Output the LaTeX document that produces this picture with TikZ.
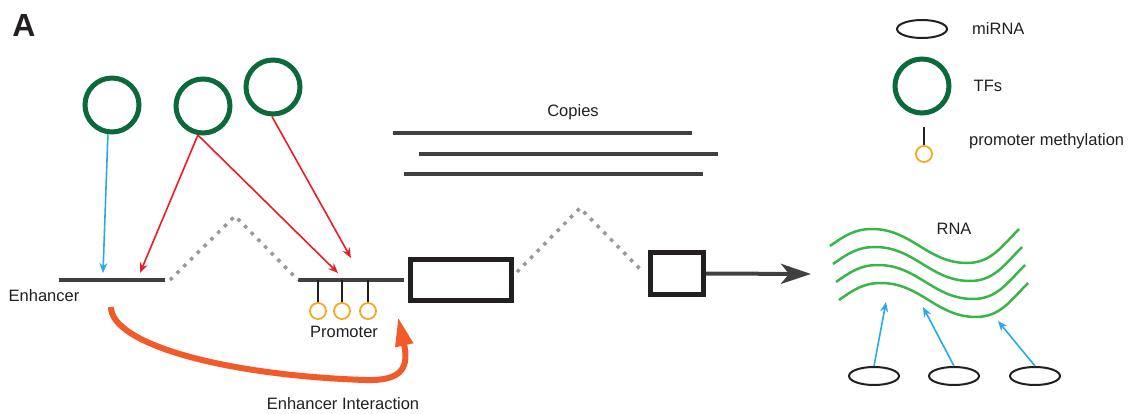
\documentclass[tikz,border=0pt]{standalone}
\usepackage{fontspec}
\setmainfont{Liberation Sans}
\usetikzlibrary{arrows.meta,positioning,shapes.geometric}
\definecolor{dnagray}{HTML}{404041}
\definecolor{boxblack}{HTML}{231F20}
\definecolor{tfgreen}{HTML}{0B6A3B}
\definecolor{methorange}{HTML}{F7A823}
\definecolor{mirblue}{HTML}{29ABE2}
\definecolor{tfred}{HTML}{ED1C24}
\definecolor{loopred}{HTML}{F15A29}
\definecolor{rnagreen}{HTML}{39B54A}

\begin{document}
\begin{tikzpicture}[x=1pt, y=1pt,
  tf/.style={circle, draw=tfgreen, line width=5pt, minimum size=54pt, inner sep=0pt},
  mirna/.style={ellipse, draw=boxblack, line width=2pt, minimum width=50pt,
                minimum height=18pt, inner sep=0pt},
  methyl/.style={circle, draw=methorange, line width=1.8pt, minimum size=16pt, inner sep=0pt},
  exon/.style={draw=boxblack, line width=5pt, inner sep=0pt},
  dna/.style={dnagray, line width=4pt},
  intron/.style={gray!80, line width=3.5pt, dash pattern=on 3.5pt off 6pt},
  rna/.style={rnagreen, line width=2.5pt},
  lbl/.style={font=\fontsize{16.5}{18}\selectfont, text=boxblack, inner sep=0pt},
  bind/.style={-{Stealth[length=10pt,width=8pt]}, line width=1.6pt},
]
\useasboundingbox (0,0) rectangle (1130,413);

\node[font=\fontsize{32}{34}\selectfont\bfseries, text=boxblack] (panel) at (24,388) {A};

% DNA: enhancer, promoter, exons and introns
\draw[dna] (59,133) -- (165,133);
\draw[dna] (298,133) -- (404,133);
\draw[intron] (170,133) -- (235,197) -- (298,133);
\node[exon, minimum width=101pt, minimum height=41pt] (ex1) at (460.5,133.5) {};
\draw[intron] (517,141) -- (580,205) -- (643,141);
\node[exon, minimum width=53pt, minimum height=42pt] (ex2) at (677,139.5) {};
\node[lbl] (enhlbl) at (44,117) {Enhancer};
\node[lbl] (prolbl) at (344,81) {Promoter};

% methylation pins on the promoter
\foreach \x [count=\i] in {318,342,368}{
  \node[methyl] (me\i) at (\x,102) {};
  \draw[boxblack, line width=1.6pt] (me\i.north) -- (\x,133);
}

% transcription factors
\node[tf] (tf1) at (112,308) {};
\node[tf] (tf2) at (203,307) {};
\node[tf] (tf3) at (273,326) {};

\coordinate (enhA) at (103,140);
\coordinate (enhB) at (140,140);
\coordinate (proA) at (338,140);
\coordinate (proB) at (351,155);
\draw[bind, mirblue] (tf1.-98) -- (enhA);
\draw[bind, tfred] (tf2.-100) -- (enhB);
\draw[bind, tfred] (tf2.-100) -- (proA);
\draw[bind, tfred] (tf3.-92) -- (proB);

% enhancer interaction loop
\coordinate (loopStart) at (111,106);
\coordinate (loopLow) at (365,33);
\coordinate (loopTip) at (398,96);
\draw[loopred, line width=6pt, -{Triangle[length=29pt,width=17pt]}]
  (loopStart) .. controls (111,70) and (220,38) .. (loopLow)
  .. controls (398,32) and (410,42) .. (loopTip);
\node[lbl] (looplbl) at (343,9) {Enhancer Interaction};

% copies
\node[lbl] (copylbl) at (573,301) {Copies};
\draw[dna] (393,280) -- (692,280);
\draw[dna] (419,259) -- (718,259);
\draw[dna] (404,239) -- (703,239);

% transcription to RNA
\coordinate (rnaIn) at (811,139);
\draw[dna, -{Stealth[length=30pt,width=20pt,inset=8pt]}] (ex2.east) -- (rnaIn);
\foreach \i in {0,...,3}{
  \draw[rna, shift={(3*\i,-18*\i)}]
    (830,167) to[out=35,in=180] (872,184) to[out=0,in=180] (967,150) to[out=0,in=225] (1019,184);
}
\node[lbl] (rnalbl) at (954,184) {RNA};

% miRNAs acting on RNA
\node[mirna] (mi1) at (874,37) {};
\node[mirna] (mi2) at (954,37) {};
\node[mirna] (mi3) at (1035,37) {};
\coordinate (rnaA) at (886,111);
\coordinate (rnaB) at (923,106);
\coordinate (rnaC) at (998,92);
\draw[bind, mirblue] (mi1.north) -- (rnaA);
\draw[bind, mirblue] (mi2.north) -- (rnaB);
\draw[bind, mirblue] (mi3.north) -- (rnaC);

% legend
\node[mirna] (legmi) at (922,384) {};
\node[lbl, right=24pt of legmi] {miRNA};
\node[tf] (legtf) at (922,327) {};
\node[lbl, right=22pt of legtf] {TFs};
\node[methyl] (legme) at (924,259) {};
\coordinate (legpin) at (924,286);
\draw[boxblack, line width=1.6pt] (legme.north) -- (legpin);
\node[lbl, anchor=west] at (969,272) {promoter methylation};

\end{tikzpicture}
\end{document}
